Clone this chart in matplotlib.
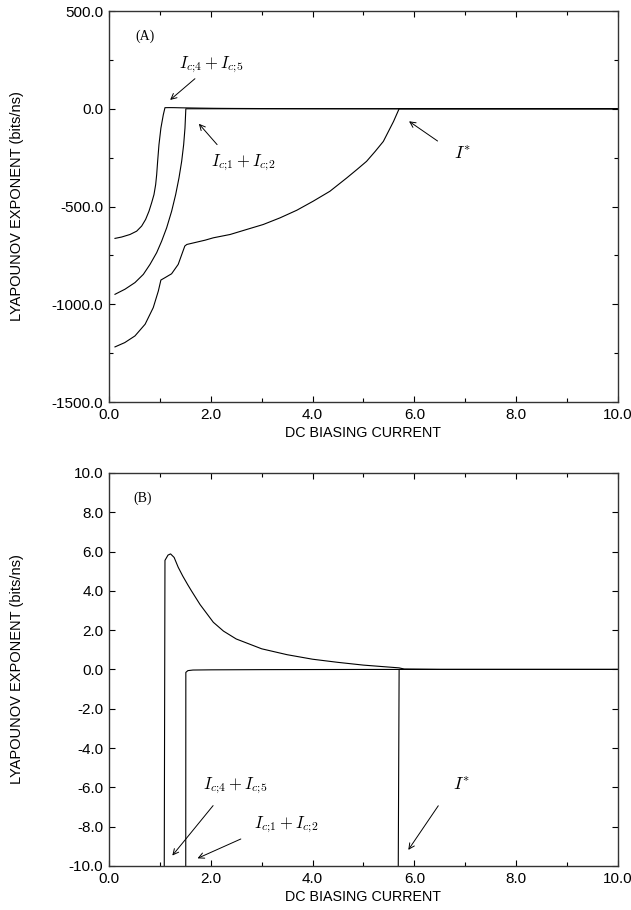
import numpy as np
import matplotlib
matplotlib.use("Agg")
import matplotlib.pyplot as plt
from matplotlib.ticker import MultipleLocator, FormatStrFormatter

plt.rcParams['font.family'] = ['Liberation Sans', 'DejaVu Sans']
plt.rcParams['mathtext.fontset'] = 'cm'
plt.rcParams['axes.unicode_minus'] = False

# Curva Ic4 + Ic5 (expoente de Lyapunov x corrente DC)
x_c45 = [0.118, 0.249, 0.413, 0.544, 0.642, 0.720, 0.786, 0.838, 0.884, 0.917,
         0.937, 0.956, 0.982, 1.02, 1.067, 1.10,
         1.16, 1.21, 1.28, 1.36, 1.45, 1.55, 1.62, 1.79, 2.05, 2.25,
         2.50, 3.00, 3.50, 4.00, 4.50, 5.00, 5.40, 5.70, 5.80, 6.50, 10.0]
y_c45 = [-663, -656, -643, -626, -600, -566, -524, -481, -439, -388,
         -337, -269, -184, -99, -31, 5.55,
         5.82, 5.88, 5.70, 5.20, 4.75, 4.30, 4.00, 3.30, 2.40, 1.95,
         1.55, 1.05, 0.75, 0.52, 0.36, 0.22, 0.14, 0.08, 0.02, 0.0, 0.0]

# Curva Ic1 + Ic2
x_c12 = [0.118, 0.314, 0.511, 0.675, 0.806, 0.937, 1.035, 1.133, 1.231, 1.31,
         1.375, 1.428, 1.467, 1.493, 1.51, 1.55, 1.65, 2.00, 3.00, 5.00, 10.0]
y_c12 = [-949, -923, -889, -847, -796, -736, -677, -609, -524, -439,
         -354, -269, -184, -99, -0.15, -0.06, -0.03, -0.02, -0.01, 0.0, 0.0]

# Curva I*
x_star = [0.118, 0.31, 0.51, 0.71, 0.87, 0.97, 1.02, 1.10, 1.23, 1.36,
          1.49, 1.53, 1.89, 2.05, 2.38, 2.71, 3.03, 3.36, 3.69, 4.01,
          4.34, 4.67, 4.87, 5.06, 5.23, 5.39, 5.49, 5.59, 5.70, 10.0]
y_star = [-1218, -1196, -1162, -1102, -1017, -932, -876, -864, -844, -796,
          -702, -694, -672, -660, -643, -617, -592, -558, -519, -473,
          -422, -354, -311, -269, -218, -167, -116, -65, 0.0, 0.0]

fig = plt.figure(figsize=(6.31, 9.10), dpi=100)
ax1 = fig.add_axes([0.1727, 0.5582, 0.8067, 0.4297])
ax2 = fig.add_axes([0.1727, 0.0484, 0.8067, 0.4319])

for ax in (ax1, ax2):
    ax.plot(x_c45, y_c45, color='black', lw=0.8)
    ax.plot(x_c12, y_c12, color='black', lw=0.8)
    ax.plot(x_star, y_star, color='black', lw=0.8)
    ax.set_xlim(0, 10)
    ax.xaxis.set_major_locator(MultipleLocator(2))
    ax.xaxis.set_minor_locator(MultipleLocator(1))
    ax.xaxis.set_major_formatter(FormatStrFormatter('%.1f'))
    ax.yaxis.set_major_formatter(FormatStrFormatter('%.1f'))
    ax.tick_params(which='both', direction='in', top=True, right=True,
                   labelsize=11, width=0.8)
    ax.tick_params(which='major', length=4, pad=4)
    ax.tick_params(which='minor', length=3)
    for s in ax.spines.values():
        s.set_linewidth(1.0)
        s.set_color('#333333')
    ax.set_xlabel('DC BIASING CURRENT', fontsize=10.3, labelpad=3)
    ax.set_ylabel('LYAPOUNOV EXPONENT (bits/ns)', fontsize=10.5)
    ax.yaxis.set_label_coords(-0.166, 0.5)

ax1.set_ylim(-1500, 500)
ax1.yaxis.set_major_locator(MultipleLocator(500))
ax1.yaxis.set_minor_locator(MultipleLocator(250))

ax2.set_ylim(-10, 10)
ax2.yaxis.set_major_locator(MultipleLocator(2))

seta = dict(arrowstyle='->', lw=0.7, color='black')
fs = 12
lab45 = r'$I_{c;\!4}+I_{c;\!5}$'
lab12 = r'$I_{c;\!1}+I_{c;\!2}$'

# Painel (A)
ax1.text(0.71, 372, '(A)', family='Liberation Serif', fontsize=10, ha='center', va='center')
ax1.text(2.02, 224, lab45, fontsize=fs, ha='center', va='center')
ax1.annotate('', xy=(1.16, 36), xytext=(1.73, 163), arrowprops=seta)
ax1.text(2.65, -276, lab12, fontsize=fs, ha='center', va='center')
ax1.annotate('', xy=(1.73, -66), xytext=(2.16, -194), arrowprops=seta)
ax1.text(6.95, -235, r'$I^{*}$', fontsize=fs + 1, ha='center', va='center')
ax1.annotate('', xy=(5.85, -56), xytext=(6.50, -173), arrowprops=seta)

# Painel (B)
ax2.text(0.67, 8.69, '(B)', family='Liberation Serif', fontsize=10, ha='center', va='center')
ax2.text(2.49, -5.94, lab45, fontsize=fs, ha='center', va='center')
ax2.annotate('', xy=(1.21, -9.58), xytext=(2.08, -6.82), arrowprops=seta)
ax2.text(3.48, -7.92, lab12, fontsize=fs, ha='center', va='center')
ax2.annotate('', xy=(1.69, -9.67), xytext=(2.64, -8.57), arrowprops=seta)
ax2.text(6.93, -5.94, r'$I^{*}$', fontsize=fs + 1, ha='center', va='center')
ax2.annotate('', xy=(5.85, -9.30), xytext=(6.50, -6.82), arrowprops=seta)

fig.savefig('out.png', dpi=100)
